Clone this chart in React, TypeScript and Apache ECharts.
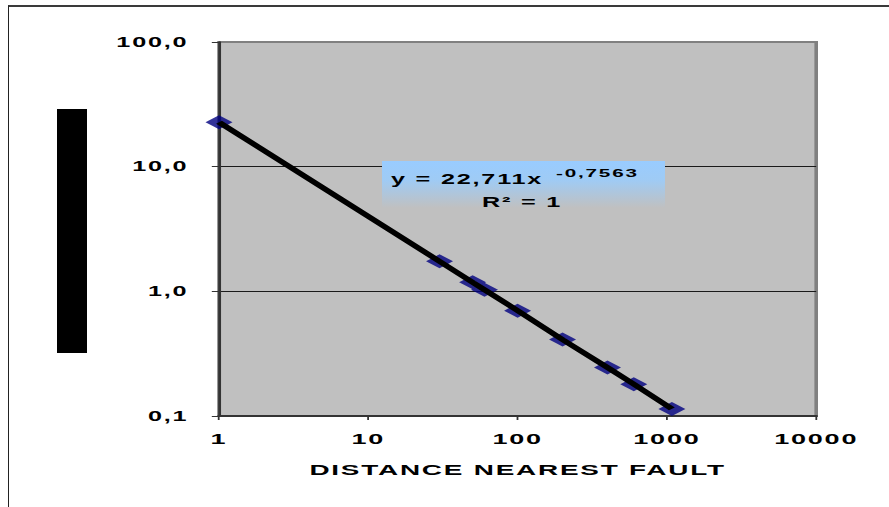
import React, { useEffect, useRef } from 'react';
import * as echarts from 'echarts';

// Measurements: distance to the nearest fault vs. the measured quantity (log-log)
const distances = [1, 30, 50, 60, 100, 200, 400, 600, 1080];
const values = [22.7, 1.74, 1.18, 1.03, 0.7, 0.41, 0.245, 0.18, 0.114];

const xTickLabels = ['1', '10', '100', '1000', '10000'];
const yTickLabels = ['0,1', '1,0', '10,0', '100,0'];
const xAxisTitle = 'DISTANCE NEAREST FAULT';
const equationMain = 'y = 22,711x';
const equationExp = '-0,7563';
const rSquared = 'R² = 1';

// The whole drawing is rendered narrow and stretched horizontally.
const STRETCH = 1.8;
const PAGE_W = 889;
const PAGE_H = 507;
const CHART_W = PAGE_W / STRETCH;
const sx = (px: number) => px / STRETCH;

const FONT = '"Liberation Sans", Arial, sans-serif';

export default function App() {
  const ref = useRef<HTMLDivElement>(null);

  useEffect(() => {
    if (!ref.current) return;
    const chart = echarts.init(ref.current, undefined, { renderer: 'svg' });
    const points = distances.map((d, i) => [d, values[i]]);

    const option: any = {
      animation: false,
      backgroundColor: 'transparent',
      textStyle: { fontFamily: FONT, fontWeight: 'bold' },
      grid: {
        left: sx(219),
        right: CHART_W - sx(816),
        top: 42,
        bottom: PAGE_H - 416,
        show: true,
        backgroundColor: '#C0C0C0',
        borderColor: '#808080',
        borderWidth: 2,
      },
      xAxis: {
        type: 'log',
        logBase: 10,
        min: 1,
        max: 10000,
        name: xAxisTitle,
        nameLocation: 'middle',
        nameGap: 46,
        nameTextStyle: { fontSize: 15.5, fontWeight: 'bold', color: '#000', fontFamily: FONT },
        axisLine: { onZero: false, lineStyle: { color: '#333', width: 2 } },
        axisTick: { show: true, length: 4, lineStyle: { color: '#333', width: 1 } },
        axisLabel: {
          margin: 15,
          fontSize: 15,
          fontWeight: 'bold',
          color: '#000',
          fontFamily: FONT,
          formatter: (v: number) => xTickLabels[Math.round(Math.log10(v))] ?? '',
        },
        splitLine: { show: false },
      },
      yAxis: {
        type: 'log',
        logBase: 10,
        min: 0.1,
        max: 100,
        axisLine: { show: true, lineStyle: { color: '#333', width: 1.6 } },
        axisTick: { show: true, length: 4, lineStyle: { color: '#333', width: 1 } },
        axisLabel: {
          margin: 17,
          fontSize: 14,
          fontWeight: 'bold',
          color: '#000',
          fontFamily: FONT,
          formatter: (v: number) => yTickLabels[Math.round(Math.log10(v)) + 1] ?? '',
        },
        splitLine: {
          show: true,
          lineStyle: { color: ['#808080', '#1a1a1a', '#1a1a1a', '#808080'], width: 1 },
        },
      },
      series: [
        {
          type: 'scatter',
          data: points,
          symbol: 'diamond',
          symbolSize: [15, 14],
          itemStyle: { color: '#000080' },
          z: 2,
        },
        {
          type: 'line',
          data: points,
          showSymbol: false,
          symbol: 'none',
          lineStyle: { color: '#000', width: 4.3 },
          z: 3,
        },
      ],
      graphic: [
        // vertical axis title block
        {
          type: 'rect',
          shape: { x: sx(57), y: 109, width: sx(30), height: 244 },
          style: { fill: '#000' },
        },
        // trendline equation box
        {
          type: 'rect',
          z: 10,
          shape: { x: sx(382), y: 161, width: sx(665 - 382), height: 47 },
          style: {
            fill: new echarts.graphic.LinearGradient(0, 0, 0, 1, [
              { offset: 0, color: '#99CCFF' },
              { offset: 0.4, color: '#9FCBF5' },
              { offset: 1, color: '#C0C0C0' },
            ]),
          },
        },
        {
          type: 'text',
          z: 11,
          x: sx(391),
          y: 179,
          style: {
            text: equationMain,
            fontSize: 14,
            fontWeight: 'bold',
            fontFamily: FONT,
            fill: '#000',
            align: 'left',
            verticalAlign: 'middle',
          },
        },
        {
          type: 'text',
          z: 11,
          x: sx(556),
          y: 173,
          style: {
            text: equationExp,
            fontSize: 11.5,
            fontWeight: 'bold',
            fontFamily: FONT,
            fill: '#000',
            align: 'left',
            verticalAlign: 'middle',
          },
        },
        {
          type: 'text',
          z: 11,
          x: sx(522),
          y: 202,
          style: {
            text: rSquared,
            fontSize: 14,
            fontWeight: 'bold',
            fontFamily: FONT,
            fill: '#000',
            align: 'center',
            verticalAlign: 'middle',
          },
        },
      ],
    };

    chart.setOption(option);
    return () => chart.dispose();
  }, []);

  return (
    <div
      style={{
        position: 'fixed',
        left: 0,
        top: 0,
        width: PAGE_W,
        height: PAGE_H,
        overflow: 'hidden',
        background: '#fff',
      }}
    >
      <style>{`.fault-chart text { letter-spacing: 1px; }`}</style>
      {/* frame around the chart area */}
      <div
        style={{
          position: 'absolute',
          left: 8,
          top: 5,
          width: PAGE_W,
          height: PAGE_H,
          borderTop: '2px solid #3a3a3a',
          borderLeft: '1px solid #222',
          boxSizing: 'border-box',
        }}
      />
      <div
        ref={ref}
        className="fault-chart"
        style={{
          position: 'absolute',
          left: 0,
          top: 0,
          width: CHART_W,
          height: PAGE_H,
          transform: `scaleX(${STRETCH})`,
          transformOrigin: '0 0',
        }}
      />
    </div>
  );
}
